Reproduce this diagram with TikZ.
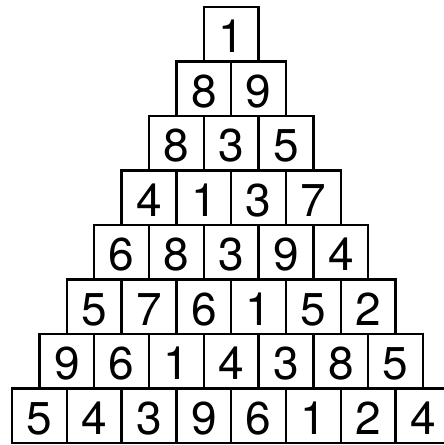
\documentclass[tikz,border=0pt]{standalone}
\usepackage{fontspec}
\setmainfont{TeX Gyre Heros}

\begin{document}
\begin{tikzpicture}[x=1pt,y=-1pt,
  cell/.style={draw,line width=2.5pt,minimum width=54.8pt,minimum height=54.5pt,
    inner sep=0pt,text height=36.6pt,text depth=0pt,font=\fontsize{46}{46}\selectfont}]
\useasboundingbox (0,0) rectangle (444,445);
\foreach \digits [count=\r] in {{1},{8,9},{8,3,5},{4,1,3,7},{6,8,3,9,4},{5,7,6,1,5,2},{9,6,1,4,3,8,5},{5,4,3,9,6,1,2,4}}
  \foreach \d [count=\k] in \digits
    \node[cell] (c\r-\k) at ({12+(8-\r)*27.4+(\k-0.5)*54.8},{7+(\r-0.5)*54.5}) {\d};
\end{tikzpicture}
\end{document}
